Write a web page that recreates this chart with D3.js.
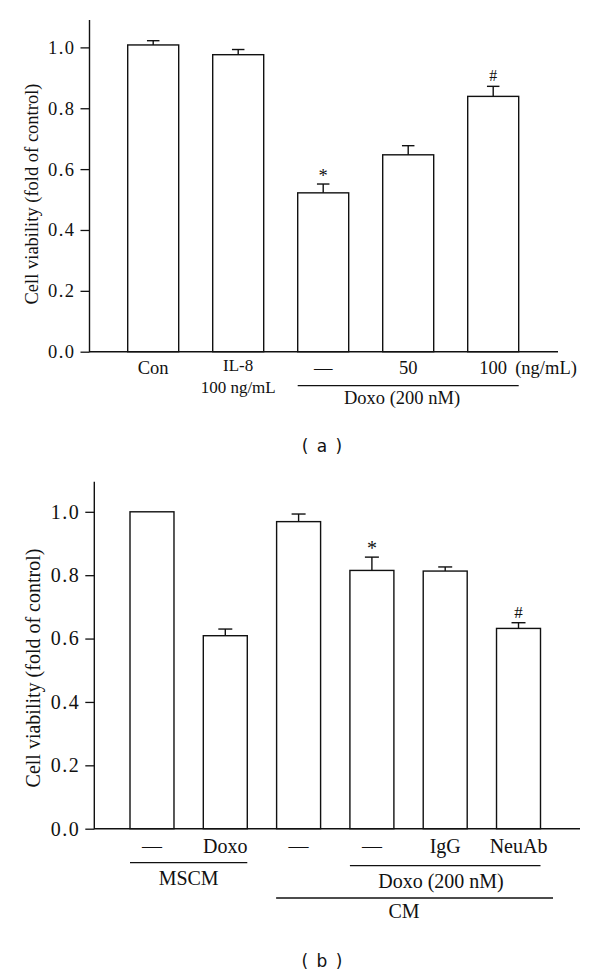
<!DOCTYPE html>
<html><head><meta charset="utf-8">
<script src="https://cdn.jsdelivr.net/npm/d3@7"></script>
<style>
body{margin:0;background:#fff;}
svg{display:block;}
.serif{font-family:"Liberation Serif","DejaVu Serif",serif;fill:#111;}
.cap{font-family:"DejaVu Sans","Open Sans",sans-serif;fill:#111;}
</style></head>
<body>
<svg id="chart" width="600" height="976"></svg>
<script>
// ---- Data ----
const catsA = ["Con", "IL-8", "Doxo", "Doxo+IL8 50", "Doxo+IL8 100"];
const valuesA = [1.008, 0.976, 0.522, 0.647, 0.839];
const errorsA = [0.014, 0.017, 0.029, 0.030, 0.033];
const marksA = ["", "", "*", "", "#"];
const tickLabelsA = ["0.0", "0.2", "0.4", "0.6", "0.8", "1.0"];

const catsB = ["MSCM", "MSCM+Doxo", "CM", "CM+Doxo", "CM+Doxo+IgG", "CM+Doxo+NeuAb"];
const valuesB = [1.0, 0.609, 0.969, 0.815, 0.813, 0.632];
const errorsB = [0, 0.021, 0.024, 0.042, 0.013, 0.018];
const marksB = ["", "", "", "*", "", "#"];
const tickLabelsB = ["0.0", "0.2", "0.4", "0.6", "0.8", "1.0"];

const yTitle = "Cell viability (fold of control)";

const svg = d3.select("#chart");

function panel(cfg) {
  const g = svg.append("g");
  const y = d3.scaleLinear().domain([0, cfg.ymax]).range([cfg.base, cfg.top]);
  const x = d3.scaleBand().domain(cfg.cats).range([cfg.barsL, cfg.barsR]).paddingInner(0.4).paddingOuter(0);
  const fs = cfg.fs;

  // y axis
  const ticks = cfg.ticks.map(Number);
  const ax = d3.axisLeft(y).tickValues(ticks).tickFormat((d,i)=>cfg.ticks[i]).tickSize(9).tickPadding(5);
  const axg = g.append("g").attr("transform", `translate(${cfg.axisX},0)`).call(ax);
  axg.select(".domain").remove();
  axg.selectAll(".tick line").attr("stroke", "#111").attr("stroke-width", 1.3);
  axg.selectAll(".tick text").attr("class", "serif").attr("font-size", fs).attr("fill", "#111")
    .style("font-family", '"Liberation Serif","DejaVu Serif",serif').attr("letter-spacing", 1.5);
  g.append("line").attr("x1", cfg.axisX).attr("x2", cfg.axisX).attr("y1", cfg.top).attr("y2", cfg.base + 0.5)
    .attr("stroke", "#111").attr("stroke-width", 1.4);
  g.append("line").attr("x1", cfg.axisX).attr("x2", cfg.baseR).attr("y1", cfg.base).attr("y2", cfg.base)
    .attr("stroke", "#111").attr("stroke-width", 1.4);

  // y title
  g.append("text").attr("class", "serif").attr("font-size", fs)
    .attr("transform", `translate(${cfg.titleX},${cfg.titleY}) rotate(-90)`)
    .attr("text-anchor", "middle").attr("dominant-baseline", "central").text(yTitle);

  // bars
  g.selectAll("rect.bar").data(cfg.cats).enter().append("rect")
    .attr("x", d => x(d)).attr("width", x.bandwidth())
    .attr("y", (d,i) => y(cfg.values[i])).attr("height", (d,i) => y(0) - y(cfg.values[i]))
    .attr("fill", "#fff").attr("stroke", "#111").attr("stroke-width", 1.4);

  // error bars
  cfg.cats.forEach((c, i) => {
    if (!cfg.errors[i]) return;
    const cx = x(c) + x.bandwidth()/2;
    const yt = y(cfg.values[i] + cfg.errors[i]);
    g.append("line").attr("x1", cx).attr("x2", cx).attr("y1", y(cfg.values[i])).attr("y2", yt)
      .attr("stroke", "#111").attr("stroke-width", 1.4);
    g.append("line").attr("x1", cx - cfg.cap/2).attr("x2", cx + cfg.cap/2).attr("y1", yt).attr("y2", yt)
      .attr("stroke", "#111").attr("stroke-width", 1.4);
    if (cfg.marks[i]) {
      g.append("text").attr("class", "serif").attr("font-size", cfg.marks[i] === "*" ? fs : fs*0.85)
        .attr("x", cx).attr("y", yt - (cfg.marks[i] === "*" ? 2 : 5)).attr("text-anchor", "middle")
        .text(cfg.marks[i]);
    }
  });
  return {g, x, y};
}

function txt(g, s, xx, yy, fs, anchor) {
  g.append("text").attr("class", "serif").attr("font-size", fs).attr("x", xx).attr("y", yy)
    .attr("text-anchor", anchor || "middle").text(s);
}
function hline(g, x1, x2, yy) {
  g.append("line").attr("x1", x1).attr("x2", x2).attr("y1", yy).attr("y2", yy)
    .attr("stroke", "#111").attr("stroke-width", 1.3);
}

// ---- Panel (a) ----
const A = panel({
  cats: catsA, values: valuesA, errors: errorsA, marks: marksA, ticks: tickLabelsA,
  ymax: 1.09, top: 20, base: 351.7, axisX: 89.5, baseR: 558,
  barsL: 127.7, barsR: 518.7, cap: 12.5, fs: 18.5, titleX: 32, titleY: 194
});
{
  const g = A.g, x = A.x, c = i => x(catsA[i]) + x.bandwidth()/2;
  txt(g, "Con", c(0), 374, 18.5);
  txt(g, "IL-8", c(1), 371, 17);
  txt(g, "100 ng/mL", c(1), 393, 17);
  txt(g, "\u2014", c(2), 374, 18.5);
  txt(g, "50", c(3), 374, 18.5);
  txt(g, "100", c(4), 374, 18.5);
  txt(g, "(ng/mL)", c(4) + 22, 374, 18.5, "start");
  hline(g, x(catsA[2]), x(catsA[4]) + x.bandwidth(), 385.7);
  txt(g, "Doxo (200 nM)", 402, 404, 18.5);
  svg.append("text").attr("class", "cap").attr("font-size", 17).attr("x", 322).attr("y", 452)
    .attr("text-anchor", "middle").attr("word-spacing", 3).text("( a )");
}

// ---- Panel (b) ----
const B = panel({
  cats: catsB, values: valuesB, errors: errorsB, marks: marksB, ticks: tickLabelsB,
  ymax: 1.095, top: 481.7, base: 828.7, axisX: 94.3, baseR: 580,
  barsL: 130, barsR: 540.5, cap: 14, fs: 20, titleX: 33, titleY: 668
});
{
  const g = B.g, x = B.x, c = i => x(catsB[i]) + x.bandwidth()/2;
  const lab = ["\u2014", "Doxo", "\u2014", "\u2014", "IgG", "NeuAb"];
  lab.forEach((s, i) => txt(g, s, c(i), 853, 20));
  hline(g, x(catsB[0]), x(catsB[1]) + x.bandwidth(), 862.7);
  txt(g, "MSCM", (x(catsB[0]) + x(catsB[1]) + x.bandwidth())/2, 885, 20);
  hline(g, x(catsB[3]), x(catsB[5]) + x.bandwidth(), 865.7);
  txt(g, "Doxo (200 nM)", 441, 888, 20);
  hline(g, x(catsB[2]) - 0.5, 553, 898);
  txt(g, "CM", 404, 918, 20);
  svg.append("text").attr("class", "cap").attr("font-size", 17).attr("x", 322).attr("y", 966.5)
    .attr("text-anchor", "middle").attr("word-spacing", 3).text("( b )");
}
</script>
</body></html>
